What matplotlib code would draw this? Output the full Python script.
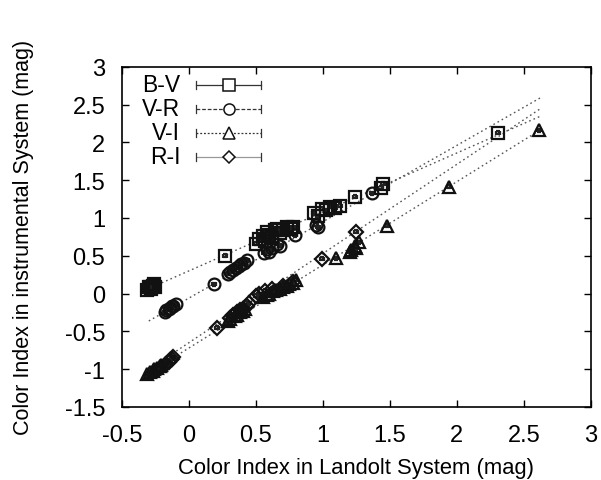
import numpy as np
import matplotlib
matplotlib.use("Agg")
import matplotlib.pyplot as plt

plt.rcParams['font.family'] = ['Liberation Sans', 'DejaVu Sans']

# standard (Landolt) vs instrumental colour indices
bv_std = [-0.31, -0.30, -0.29, -0.28, -0.27, -0.26, -0.25, 0.27, 0.50, 0.52, 0.55, 0.57,
          0.58, 0.60, 0.62, 0.64, 0.66, 0.68, 0.70, 0.73, 0.76, 0.78, 0.93, 0.96, 0.99,
          1.02, 1.05, 1.09, 1.13, 1.24, 1.43, 1.45, 2.31]
bv_ins = [0.05, 0.09, 0.08, 0.06, 0.10, 0.12, 0.09, 0.50, 0.66, 0.72, 0.76, 0.70,
          0.82, 0.78, 0.73, 0.84, 0.86, 0.80, 0.84, 0.88, 0.86, 0.88, 1.06, 1.02, 1.12,
          1.10, 1.15, 1.13, 1.16, 1.28, 1.40, 1.45, 2.13]

vr_std = [-0.18, -0.17, -0.15, -0.14, -0.13, -0.12, -0.10, 0.19, 0.29, 0.31, 0.33, 0.35,
          0.37, 0.39, 0.41, 0.43, 0.56, 0.58, 0.60, 0.62, 0.66, 0.68, 0.79, 0.95, 0.96,
          1.37]
vr_ins = [-0.25, -0.22, -0.21, -0.19, -0.17, -0.16, -0.14, 0.12, 0.26, 0.29, 0.31, 0.34,
          0.36, 0.39, 0.41, 0.44, 0.54, 0.59, 0.55, 0.60, 0.66, 0.63, 0.77, 0.91, 0.88,
          1.33]

vi_std = [-0.31, -0.29, -0.27, -0.26, -0.24, -0.22, -0.21, 0.29, 0.31, 0.34, 0.36, 0.38,
          0.40, 0.42, 0.55, 0.58, 0.60, 0.63, 0.65, 0.68, 0.70, 0.73, 0.75, 0.78, 0.80,
          1.10, 1.20, 1.21, 1.24, 1.25, 1.27, 1.48, 1.94, 2.61]
vi_ins = [-1.06, -1.04, -1.02, -1.00, -0.98, -0.96, -0.95, -0.37, -0.34, -0.30, -0.28, -0.25,
          -0.23, -0.20, -0.05, -0.02, 0.00, 0.03, 0.05, 0.06, 0.08, 0.10, 0.12, 0.14, 0.18,
          0.47, 0.55, 0.58, 0.63, 0.60, 0.68, 0.90, 1.41, 2.16]

ri_std = [-0.18, -0.17, -0.15, -0.14, -0.13, -0.12, 0.21, 0.31, 0.33, 0.36, 0.38, 0.40,
          0.43, 0.45, 0.50, 0.52, 0.57, 0.62, 0.70, 0.78, 0.99, 1.25]
ri_ins = [-0.95, -0.93, -0.90, -0.88, -0.86, -0.84, -0.45, -0.32, -0.29, -0.25, -0.22, -0.20,
          -0.16, -0.13, -0.03, -0.01, 0.04, 0.06, 0.10, 0.15, 0.46, 0.82]

# linear fits (slope, intercept)
fit_bv = (0.78, 0.30)
fit_vr = (1.01, -0.06)
fit_vi = (1.10, -0.72)
fit_ri = (1.18, -0.65)
fit_range = (-0.30, 2.63)

labels = ['B-V', 'V-R', 'V-I', 'R-I']
markers = ['s', 'o', '^', 'D']
msizes = [9, 8.5, 9, 7]
key_styles = ['-', (0, (3, 1.5)), (0, (1.5, 1.5)), (0, (0.8, 0.8))]

fig = plt.figure(figsize=(6.01, 4.81), dpi=100)
ax = fig.add_axes([0.203, 0.152, 0.780, 0.707])

xs = np.array(fit_range)
series = [(bv_std, bv_ins, fit_bv), (vr_std, vr_ins, fit_vr),
          (vi_std, vi_ins, fit_vi), (ri_std, ri_ins, fit_ri)]
for (sx, sy, (m, b)), mk, ms in zip(series, markers, msizes):
    ax.plot(xs, m * xs + b, color='#555555', lw=1.0, linestyle=(0, (1.2, 2.2)), zorder=1)
    ax.errorbar(sx, sy, xerr=0.015, yerr=0.02, fmt=mk, ms=ms, mfc='none', mec='#111111',
                mew=1.6, ecolor='#222222', elinewidth=1.0, capsize=1.5, zorder=3)

# key, gnuplot style: label on the left, sample line with end caps
key_y = [0.947, 0.876, 0.806, 0.735]
for lab, mk, ms, ls, yk in zip(labels, markers, msizes, key_styles, key_y):
    ax.text(0.124, yk, lab, transform=ax.transAxes, ha='right', va='center', fontsize=16.5)
    ax.plot([0.158, 0.296], [yk, yk], transform=ax.transAxes, color='#333333',
            lw=0.9, linestyle=ls, clip_on=False)
    for xe in (0.158, 0.296):
        ax.plot([xe, xe], [yk - 0.012, yk + 0.012], transform=ax.transAxes,
                color='#333333', lw=0.9)
    ax.plot([0.228], [yk], transform=ax.transAxes, marker=mk, ms=ms - 0.5, mfc='white',
            mec='#111111', mew=1.1)

ax.set_xlim(-0.5, 3)
ax.set_ylim(-1.5, 3)
ax.set_xticks(np.arange(-0.5, 3.01, 0.5))
ax.set_yticks(np.arange(-1.5, 3.01, 0.5))
ax.set_xticklabels(['-0.5', '0', '0.5', '1', '1.5', '2', '2.5', '3'])
ax.set_yticklabels(['-1.5', '-1', '-0.5', '0', '0.5', '1', '1.5', '2', '2.5', '3'])
ax.tick_params(direction='in', top=True, right=True, length=5, width=1,
               labelsize=17)
ax.tick_params(axis='y', pad=12)
ax.tick_params(axis='x', pad=12)
for sp in ax.spines.values():
    sp.set_linewidth(1.2)

ax.set_xlabel('Color Index in Landolt System (mag)', fontsize=15.8, labelpad=8)
ax.set_ylabel('Color Index in instrumental System (mag)', fontsize=15.5, labelpad=22)

fig.savefig('out.png', dpi=100)
